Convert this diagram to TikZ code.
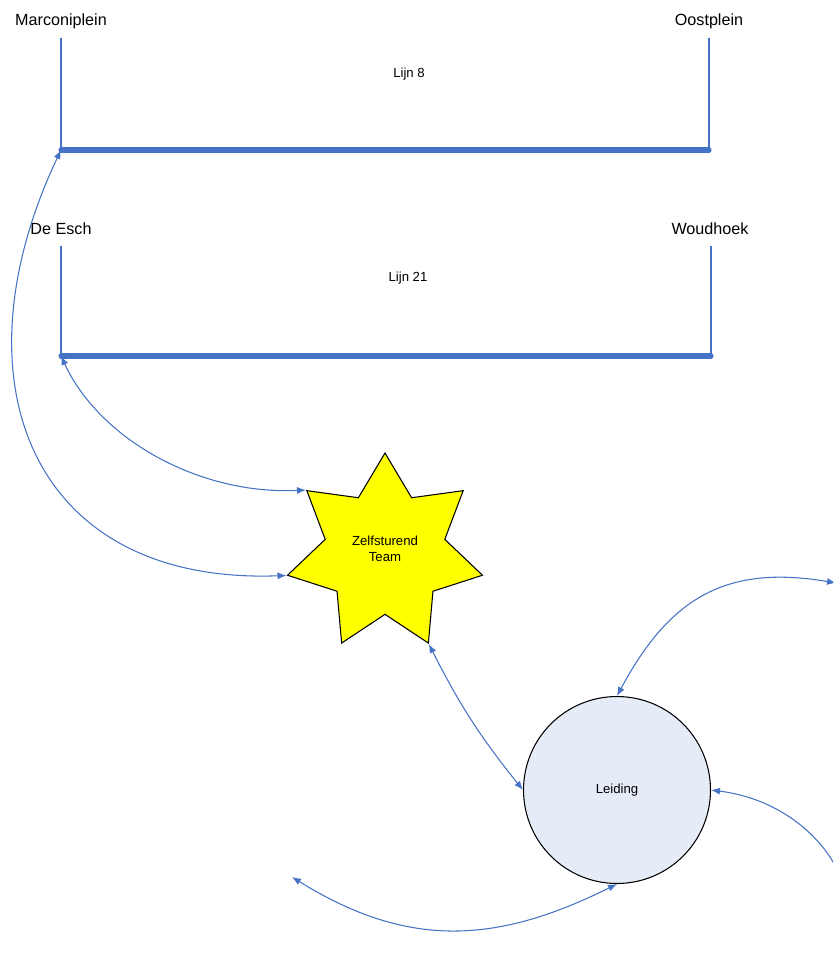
\documentclass[tikz,border=0pt]{standalone}
\usepackage{fontspec}
\setmainfont{Liberation Sans}
\definecolor{lblue}{HTML}{4472C4}
\definecolor{lfill}{HTML}{E6ECF7}
\definecolor{lgeel}{HTML}{FFFF00}
\usetikzlibrary{arrows.meta,shapes.geometric}

\begin{document}
\begin{tikzpicture}[x=0.02cm,y=-0.02cm,
      every node/.style={align=center,inner sep=0pt},
      halte/.style={font=\fontsize{9.2}{11}\selectfont},
      klein/.style={font=\fontsize{7.5}{9}\selectfont},
      spoor/.style={draw=lblue,line width=0.85pt},
      balk/.style={draw=lblue,line width=2.9pt,line cap=round},
      pijl/.style={draw=lblue,line width=0.6pt,{Latex[length=1.8mm,width=1.4mm]}-{Latex[length=1.8mm,width=1.4mm]}}]
    \path[use as bounding box,clip] (0,0) rectangle (833,953);

    \coordinate (m1) at (61,38);  \coordinate (m2) at (61,150);
    \coordinate (o1) at (709,38); \coordinate (o2) at (709,150);
    \coordinate (e1) at (61,246); \coordinate (e2) at (61,356);
    \coordinate (w1) at (711,246); \coordinate (w2) at (711,356);
    \coordinate (ne) at (836,583); \coordinate (se) at (845,895);
    \coordinate (sw) at (292,877);

    \node[halte] (marc) at (61,21) {Marconiplein};
    \node[halte] (oost) at (709,21) {Oostplein};
    \node[halte] (esch) at (61,229) {De Esch};
    \node[halte] (woud) at (710,229) {Woudhoek};
    \node[klein] (l8) at (409,74) {Lijn 8};
    \node[klein] (l21) at (408,278) {Lijn 21};

    \draw[spoor] (m1)--(m2); \draw[spoor] (o1)--(o2);
    \draw[spoor] (e1)--(e2); \draw[spoor] (w1)--(w2);
    \draw[balk] (m2)--(o2); \draw[balk] (e2)--(w2);

    \node[star,star points=7,star point ratio=1.63,minimum size=4.0cm,
          draw=black,line width=0.6pt,fill=lgeel,
          label={[klein,yshift=2.3pt]center:{Zelfsturend\\Team}}] (team) at (385,553) {};
    \node[klein,circle,minimum size=3.74cm,draw=black,line width=0.6pt,fill=lfill] (lead) at (617,790) {Leiding};

    \draw[pijl] (m2) .. controls (-48,380) and (30,585) .. (team.outer point 3);
    \draw[pijl] (e2) .. controls (100,440) and (200,495) .. (team.outer point 2);
    \draw[pijl] (team.outer point 5) to[bend right=6] (lead.west);
    \draw[pijl] (lead.north) .. controls (669,599) and (725,564) .. (ne);
    \draw[pijl] (lead.east) .. controls (790,800) and (835,850) .. (se);
    \draw[pijl] (lead.south) .. controls (500,942) and (411,951) .. (sw);
  \end{tikzpicture}
\end{document}
